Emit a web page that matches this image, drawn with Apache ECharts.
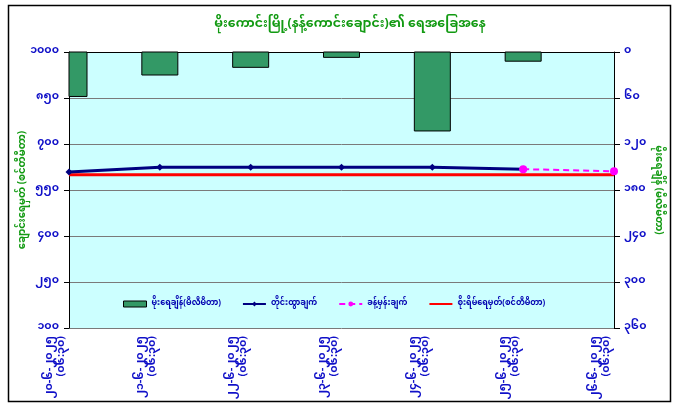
<!DOCTYPE html>
<html>
<head>
<meta charset="utf-8">
<script src="https://cdn.jsdelivr.net/npm/echarts@6/dist/echarts.min.js"></script>
<style>
html,body{margin:0;padding:0;background:#fff;}
#c{width:678px;height:414px;}
</style>
</head>
<body>
<div id="c"></div>
<script>
const titleText = 'မိုးကောင်းမြို့(နန့်ကောင်းချောင်း)၏ ရေအခြေအနေ';
const dates = ['၂၀-၆-၂၀၂၅', '၂၁-၆-၂၀၂၅', '၂၂-၆-၂၀၂၅', '၂၃-၆-၂၀၂၅', '၂၄-၆-၂၀၂၅', '၂၅-၆-၂၀၂၅', '၂၆-၆-၂၀၂၅'];
const times = ['(၀၆:၃၀)', '(၀၆:၃၀)', '(၀၆:၃၀)', '(၀၆:၃၀)', '(၀၆:၃၀)', '(၀၆:၃၀)', '(၀၆:၃၀)'];
const rainfall = [58, 30, 20, 7, 103, 12, null];
const observed = [609, 624, 624, 624, 624, 618, null];
const forecast = [null, null, null, null, null, 618, 611];
const danger = [600, 600, 600, 600, 600, 600, 600];
const seriesNames = ['မိုးရေချိန်(မီလီမီတာ)', 'တိုင်းထွာချက်', 'ခန့်မှန်းချက်', 'စိုးရိမ်ရေမှတ်(စင်တီမီတာ)'];
const leftAxisName = 'ချောင်းရေမှတ် (စင်တီမီတာ)';
const rightAxisName = 'မိုးရေချိန် (မီလီမီတာ)';

const myDigits = ['၀','၁','၂','၃','၄','၅','၆','၇','၈','၉'];
function toMy(n){ return String(n).replace(/[0-9]/g, d => myDigits[+d]); }

const FONT = "'Noto Sans Myanmar','Padauk','Myanmar Text','Noto Sans',sans-serif";
const BLUE = '#1010c8';
const GREEN = '#129a12';
const BAR_W = 36;

const rainData = rainfall.map((v, i) => [i, v]);

const chart = echarts.init(document.getElementById('c'));
chart.setOption({
  animation: false,
  backgroundColor: '#ffffff',
  textStyle: { fontFamily: FONT },
  graphic: [
    { type: 'rect', shape: { x: 8.5, y: 5.5, width: 662, height: 396 }, style: { fill: 'none', stroke: '#000', lineWidth: 1.5 }, z: -10 }
  ],
  title: {
    text: titleText,
    left: 345, top: 14, textAlign: 'center',
    textStyle: { color: GREEN, fontSize: 12.5, fontWeight: 'bold', fontFamily: FONT }
  },
  legend: {
    left: 118, top: 295,
    itemWidth: 23, itemHeight: 6, itemGap: 21,
    textStyle: { color: '#0000b0', fontSize: 8, fontWeight: 'bold', fontFamily: FONT },
    data: [
      { name: seriesNames[0], icon: 'rect', itemStyle: { color: '#339966', borderColor: '#000', borderWidth: 1 } },
      { name: seriesNames[1] },
      { name: seriesNames[2] },
      { name: seriesNames[3], itemStyle: { color: 'rgba(0,0,0,0)', borderColor: 'rgba(0,0,0,0)', borderWidth: 0 } }
    ]
  },
  grid: { left: 69, right: 64, top: 52, bottom: 86, show: true, backgroundColor: '#ccffff', borderWidth: 0 },
  xAxis: {
    type: 'category',
    data: dates,
    boundaryGap: false,
    axisLine: { lineStyle: { color: '#000', width: 1 } },
    axisTick: { show: true, length: 5, lineStyle: { color: '#000' } },
    axisLabel: {
      rotate: 90, margin: 8, interval: 0,
      color: BLUE, fontSize: 11, fontWeight: 'bold', fontFamily: FONT, lineHeight: 12,
      formatter: (v, i) => v + '\n' + times[i] + '\n\u00a0\n\u00a0'
    }
  },
  yAxis: [
    {
      type: 'value', min: 100, max: 1000, interval: 150,
      name: leftAxisName, nameLocation: 'middle', nameGap: 40, nameRotate: 90, nameMoveOverlap: false,
      nameTextStyle: { color: GREEN, fontSize: 10, fontWeight: 'bold', fontFamily: FONT },
      axisLine: { show: true, lineStyle: { color: '#000' } },
      axisTick: { show: true, length: 5, lineStyle: { color: '#000' } },
      axisLabel: { color: BLUE, fontSize: 11, fontWeight: 'bold', fontFamily: FONT, margin: 10, formatter: v => toMy(v) },
      splitLine: { show: true, lineStyle: { color: '#7a7a7a', width: 1 } }
    },
    {
      type: 'value', min: 0, max: 360, interval: 60, inverse: true, position: 'right',
      name: rightAxisName, nameLocation: 'middle', nameGap: 38, nameRotate: -90, nameMoveOverlap: false,
      nameTextStyle: { color: GREEN, fontSize: 10, fontWeight: 'bold', fontFamily: FONT },
      axisLine: { show: true, lineStyle: { color: '#000' } },
      axisTick: { show: true, length: 6, lineStyle: { color: '#000' } },
      axisLabel: { color: BLUE, fontSize: 11, fontWeight: 'bold', fontFamily: FONT, margin: 10, formatter: v => toMy(v) },
      splitLine: { show: false }
    }
  ],
  series: [
    {
      name: seriesNames[0], type: 'custom', yAxisIndex: 1, data: rainData,
      encode: { x: 0, y: 1 },
      itemStyle: { color: '#339966', borderColor: '#000', borderWidth: 1 },
      renderItem: function (params, api) {
        const v = api.value(1);
        if (v == null || isNaN(v)) return;
        const top = api.coord([api.value(0), 0]);
        const bot = api.coord([api.value(0), v]);
        const cs = params.coordSys;
        const rect = echarts.graphic.clipRectByRect(
          { x: top[0] - BAR_W / 2, y: top[1], width: BAR_W, height: bot[1] - top[1] },
          { x: cs.x, y: cs.y, width: cs.width, height: cs.height }
        );
        if (!rect) return;
        return {
          type: 'rect', shape: rect,
          style: { fill: '#339966', stroke: '#000', lineWidth: 1 }
        };
      },
      z: 2
    },
    {
      name: seriesNames[3], type: 'line', yAxisIndex: 0, data: danger,
      symbol: 'none', lineStyle: { color: '#ff0000', width: 3 }, itemStyle: { color: '#ff0000' }, z: 3
    },
    {
      name: seriesNames[1], type: 'line', yAxisIndex: 0, data: observed,
      symbol: 'diamond', symbolSize: 7, showAllSymbol: true,
      lineStyle: { color: '#000080', width: 3 }, itemStyle: { color: '#000080' }, z: 4
    },
    {
      name: seriesNames[2], type: 'line', yAxisIndex: 0, data: forecast,
      symbol: 'circle', symbolSize: 8,
      lineStyle: { color: '#ff00ff', width: 2, type: [6, 4] }, itemStyle: { color: '#ff00ff' }, z: 5
    }
  ]
});
</script>
</body>
</html>
